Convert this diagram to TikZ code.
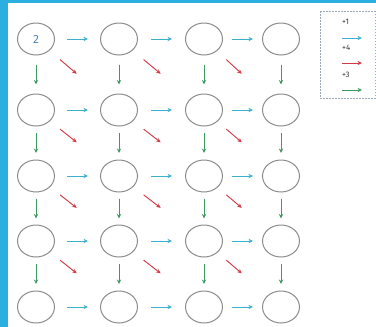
\documentclass[tikz,border=0pt]{standalone}
\usepackage{fontspec}
\setmainfont{Fira Sans}
\usetikzlibrary{shapes.geometric,arrows.meta,calc}
\definecolor{band}{HTML}{2AAFE0}
\definecolor{ring}{HTML}{8C8C8C}
\definecolor{cblue}{HTML}{3BB0CF}
\definecolor{cred}{HTML}{D23A45}
\definecolor{cgreen}{HTML}{3E9A5E}
\definecolor{numc}{HTML}{4A86C0}
\definecolor{legc}{HTML}{9AAAB8}
\tikzset{
  cell/.style={ellipse,draw=ring,line width=1pt,minimum width=37pt,minimum height=32pt,inner sep=0pt},
  tip/.style={-{Stealth[length=4.5pt,width=4.2pt]}},
  plusone/.style={tip,draw=cblue,fill=cblue,line width=0.9pt},
  plusfour/.style={tip,draw=cred,fill=cred,line width=0.9pt},
  plusthree/.style={tip,draw=cgreen,fill=cgreen,line width=0.9pt},
  legtext/.style={font=\fontsize{8}{9}\selectfont,text=black!75,anchor=west,inner sep=0pt}
}
\begin{document}
\begin{tikzpicture}[x=1pt,y=-1pt]
\useasboundingbox (0,0) rectangle (376,327);
\fill[white] (0,0) rectangle (376,327);
\fill[band] (0,0) rectangle (8,327);
\fill[band] (0,0) rectangle (376,3);
% grid of cells
\foreach \c/\x in {1/36,2/119,3/204,4/281}{
  \foreach \r/\y in {1/39,2/110,3/176,4/241,5/307}{
    \node[cell] (n\r\c) at (\x,\y) {};
  }
}
\node[font=\fontsize{12}{13}\selectfont\mdseries,text=numc] at (n11) {2};
% horizontal +1
\foreach \r in {1,...,5}{
  \foreach \c/\d in {1/2,2/3,3/4}{
    \draw[plusone] ($(n\r\c.east)!0.5!(n\r\d.west)+(-10.5,0)$) -- ($(n\r\c.east)!0.5!(n\r\d.west)+(10.5,0)$);
  }
}
% vertical +3
\foreach \c in {1,...,4}{
  \foreach \r/\s in {1/2,2/3,3/4,4/5}{
    \draw[plusthree] ($(n\r\c.south)!0.5!(n\s\c.north)+(0,-10)$) -- ($(n\r\c.south)!0.5!(n\s\c.north)+(0,10)$);
  }
}
% diagonal +4
\foreach \r/\s in {1/2,2/3,3/4,4/5}{
  \foreach \c/\d in {1/2,2/3,3/4}{
    \draw[plusfour] ($(n\r\c)!0.29!(n\s\d)$) -- ($(n\r\c)!0.49!(n\s\d)$);
  }
}
% legend
\draw[legc,line width=0.6pt,dash pattern=on 1.5pt off 1.5pt] (320,11) rectangle (375,98);
\node[legtext] (l1) at (342,22) {+1};
\coordinate (a1) at (342,38); \coordinate (b1) at (362,38);
\draw[plusone] (a1) -- (b1);
\node[legtext] (l2) at (342,48) {+4};
\coordinate (a2) at (342,63); \coordinate (b2) at (362,63);
\draw[plusfour] (a2) -- (b2);
\node[legtext] (l3) at (342,75) {+3};
\coordinate (a3) at (342,90); \coordinate (b3) at (362,90);
\draw[plusthree] (a3) -- (b3);
\end{tikzpicture}
\end{document}
